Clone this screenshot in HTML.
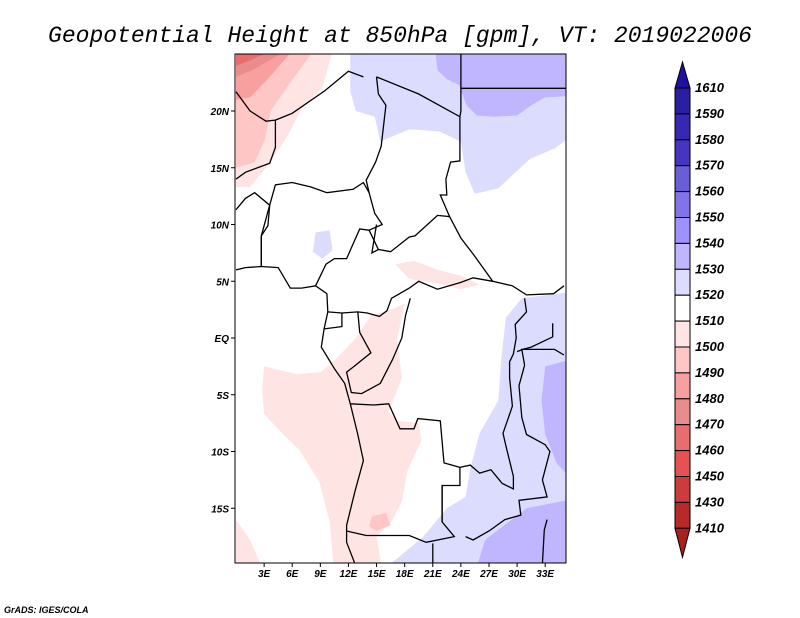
<!DOCTYPE html>
<html><head><meta charset="utf-8"><style>
body{margin:0;background:#fff;}
svg{display:block;}
text{font-family:"Liberation Sans",sans-serif;}
</style></head><body>
<svg id="c" width="800" height="618" viewBox="0 0 800 618">
<rect width="800" height="618" fill="#fff"/>
<text x="400" y="42" text-anchor="middle" font-style="italic" font-size="23" fill="#000" style="font-family:'Liberation Mono',monospace">Geopotential Height at 850hPa [gpm], VT: 2019022006</text>
<g id="map"></g>
<g id="axes"></g>
<g id="cbar"></g>
<text x="4" y="613" font-size="9" font-weight="bold" font-style="italic">GrADS: IGES/COLA</text>
</svg>
<script>
const NS="http://www.w3.org/2000/svg";
// colorbar data
const levelLabels=["1610","1590","1580","1570","1560","1550","1540","1530","1520","1510","1500","1490","1480","1470","1460","1450","1430","1410"];
const boxColors=["#2a1fa0","#3628b0","#4535c0","#6a5ed6","#8074e8","#9e92ff","#bfb6ff","#dcdcff","#ffffff","#ffe4e4","#ffc6c6","#f8a0a0","#e88c8c","#e86e6e","#e65252","#cc3c3c","#b82a2a"];
const topColor="#2010a0", bottomColor="#a82020";
// axis ticks
const lonTicks=[3,6,9,12,15,18,21,24,27,30,33];
const latTicks=[20,15,10,5,0,-5,-10,-15];
// shaded regions: [color, [[lon,lat],...]]
const regions=[
 ["#ffe4e4",[[0,25],[10.2,25],[9.2,22],[7,20.2],[5.5,17.8],[3.5,15.3],[1.5,13.3],[0,13.3]]],
 ["#ffc6c6",[[0,25],[8,25],[5.8,22.5],[3.7,20],[3.1,17.5],[2,15.5],[0,15]]],
 ["#f8a0a0",[[0,25],[5.7,25],[3.6,23],[1.5,21.2],[0,21]]],
 ["#e88c8c",[[0,25],[4.7,25],[2,23.7],[0,23]]],
 ["#e86e6e",[[0,25],[3,25],[1,24.3],[0,24]]],
 ["#dcdcff",[[12.2,25],[35.3,25],[35.3,17.5],[34,16.7],[31.4,15.8],[28,13.2],[25.5,12.7],[24.5,14.6],[24,17.3],[21.7,18.2],[18.5,18.4],[15.4,17.3],[14.8,19.5],[12.8,20],[12.2,21.7]]],
 ["#bfb6ff",[[21.3,25],[35.3,25],[35.3,21.3],[33,21.2],[31.5,20.5],[30,19.6],[27.5,19.5],[25.7,19.6],[24.6,20.5],[23.8,22.3],[22.5,22.8],[21.5,23.6]]],
 ["#dcdcff",[[8.5,9.3],[10,9.5],[10.3,7.7],[9.2,7],[8.2,7.6]]],
 ["#ffe4e4",[[3,-2.5],[6.5,-3.2],[9,-3],[10.5,-2],[12.8,0],[14.4,2],[16.5,2.5],[18,3],[17.2,0],[17.7,-3.5],[16.3,-6.5],[17.2,-7.3],[19.5,-7.5],[19.8,-9],[18.3,-11.7],[17.7,-14.4],[16.6,-16.2],[15,-17.5],[15.5,-19.9],[10.4,-19.9],[10,-16.2],[8.9,-12.7],[6.8,-9.9],[4.7,-8.2],[3,-6.7],[2.8,-4.5]]],
 ["#ffe4e4",[[0,-16],[1.5,-17.8],[2.6,-19.9],[0,-19.9]]],
 ["#ffc6c6",[[14.5,-15.7],[16,-15.4],[16.5,-16.5],[15,-17],[14.2,-16.6]]],
 ["#ffe4e4",[[17,6.5],[19,6.8],[21.5,6],[24,5.5],[26,4.7],[24,4.3],[21.5,4.8],[18.5,5.2]]],
 ["#dcdcff",[[35.3,4],[30.5,3.5],[28.8,1.8],[28.3,-1.9],[28,-5.5],[26,-8.4],[25,-11.5],[24.5,-14],[22.5,-15],[20,-17.5],[16.5,-19.9],[35.3,-19.9]]],
 ["#bfb6ff",[[35.3,-2],[33,-2.5],[32.6,-5.5],[33,-8.5],[34.2,-11],[35.3,-12]]],
 ["#bfb6ff",[[35.3,-14.3],[31,-15],[28.3,-16.7],[26.6,-17.8],[25.8,-19.9],[35.3,-19.9]]]
];
// coastline / borders polylines
const lines=[
 [[0,14],[1,14.6],[3.6,15.4],[4.2,16.8],[4.2,19.2],[6,19.8],[9.5,21.8],[12,23.5],[13.6,23]],
 [[0,21.7],[1.5,20],[3.2,19.1],[4.2,19.2]],
 [[0,11.3],[1,12.3],[2,12.8],[3.6,11.7],[3.4,9.9],[2.7,9],[2.7,6.3]],
 [[0,6],[1,6.2],[2.7,6.3],[4.5,6.2],[5.8,4.4],[7,4.4],[8.5,4.6],[9.7,3.9],[9.8,2.3],[9.4,0.8],[9.1,-0.8],[10.5,-2.7],[11.6,-4],[12.2,-5.8],[13,-8.5],[13.6,-10.8],[12.7,-13.5],[11.8,-16.5],[11.8,-18],[12.7,-19.9]],
 [[2.7,6.3],[2.7,9],[3.6,11.7],[4.2,13.5],[6,13.7],[8,13.3],[9.7,12.8],[12.5,13.1],[13.6,13.7],[14.2,12.8],[14.8,11],[15.6,10],[14.2,9.5],[15.2,7.8],[16.5,7.6],[18.5,8.9],[19.1,9],[21.5,10.8],[22.8,10.7],[24,8.8],[25.3,7.4],[27.4,5]],
 [[14.2,12.8],[13.9,13.9],[14.9,15.5],[15.5,16.9],[16,20.5],[15.2,21.5],[15,23]],
 [[15,23],[19.5,21.5],[23.9,19.5],[23.9,15.6],[22.9,15.5],[22.4,14],[22.5,12.6],[21.8,12.6],[22.8,10.7]],
 [[24,25],[24,20],[23.9,19.5]],
 [[24,22],[35.3,22]],
 [[8.5,4.6],[9.6,6.5],[10.5,7],[11.8,7],[13.2,9.6],[14.2,9.5]],
 [[15,10],[14.5,7.5],[15.2,7.8]],
 [[9.8,2.3],[11.3,2.2],[13,2.3],[14,2.2],[15.3,1.9],[16.1,2.4],[16.6,3.5],[18.5,4.4],[19.5,5],[21.5,4.3],[24,4.9],[25.3,5.3],[27.4,5],[29.5,4.6],[31,3.8],[33.9,3.9],[35,4.6]],
 [[11.3,2.2],[11.3,1],[9.4,0.8]],
 [[13,2.3],[13.2,0.5],[14.4,-1.3],[12.6,-2.5],[11.8,-3],[12.3,-4.8],[13.4,-4.9],[15.4,-4],[16.7,-1.9],[17.7,0],[18.1,2],[18.6,3.5]],
 [[12.2,-5.8],[14.7,-5.9],[16.3,-5.8],[17.5,-8],[19,-8],[19.4,-7.1],[21.8,-7.3],[22.2,-11],[23.9,-11.4],[23.9,-13],[22,-13],[22,-16.2],[23.3,-17.5],[20.3,-18],[18.5,-17.4],[13.9,-17.4],[11.8,-17]],
 [[21,-18.1],[21,-19.9]],
 [[22,-13],[22,-16.2]],
 [[23.9,-11.4],[25,-11.2],[26,-11.9],[27.2,-11.6],[28.4,-12.8],[29.6,-13.3],[29.6,-12.2],[28.8,-9.5],[28.5,-8.4],[29.5,-6],[29.2,-3.5],[29.2,-2.1],[29.6,-1.4],[29.9,0],[29.8,1.2],[31,2.3],[30.8,3.5]],
 [[24.5,-17.5],[25.3,-17.8],[27,-17],[28.7,-16],[30.4,-15.6],[30.2,-14.3],[33.2,-14],[32.7,-12.5],[33.5,-10],[33,-9.4],[31,-8.5],[30.5,-7],[30.2,-4.2],[30.8,-2.4],[30.5,-1],[32,-1],[34,-1]],
 [[34,-1],[35,-1.5]],[[30,-1.2],[30.6,-1],[31.5,-0.8],[33.8,0.1],[33.8,1.3]],
 [[32.7,-19.9],[32.9,-16.9],[33.2,-16]]
];
const X0=236, PXLON=9.37, Y0=338, PXLAT=11.35;
const px=lon=>X0+lon*PXLON, py=lat=>Y0-lat*PXLAT;
const map=document.getElementById('map'), axes=document.getElementById('axes'), cb=document.getElementById('cbar');
function mk(tag,attrs,parent){const e=document.createElementNS(NS,tag);for(const k in attrs)e.setAttribute(k,attrs[k]);parent.appendChild(e);return e;}
const defs=mk('defs',{},map);
const cp=mk('clipPath',{id:'clipmap'},defs);
mk('rect',{x:235,y:54,width:331,height:509},cp);
const g=mk('g',{'clip-path':'url(#clipmap)'},map);
regions.forEach((r,i)=>{
 const p=mk('polygon',{points:r[1].map(q=>px(q[0]).toFixed(1)+','+py(q[1]).toFixed(1)).join(' '),fill:r[0]},g);
 
 
});
lines.forEach((l,i)=>{
 const p=mk('polyline',{points:l.map(q=>px(q[0]).toFixed(1)+','+py(q[1]).toFixed(1)).join(' '),fill:'none',stroke:'#000','stroke-width':1.3},g);
 
 
});
const fr=mk('rect',{x:235,y:54,width:331,height:509,fill:'none',stroke:'#000','stroke-width':1},map);


lonTicks.forEach(v=>{
 const x=px(v);
 mk('line',{x1:x,x2:x,y1:563,y2:567,stroke:'#000'},axes);
 const t=mk('text',{x:x,y:577,'text-anchor':'middle','font-size':10,'font-weight':'bold','font-style':'italic'},axes);
 t.textContent=v+'E';
 
 
});
latTicks.forEach(v=>{
 const y=py(v);
 mk('line',{x1:231,x2:235,y1:y,y2:y,stroke:'#000'},axes);
 const t=mk('text',{x:229,y:y+4,'text-anchor':'end','font-size':10,'font-weight':'bold','font-style':'italic'},axes);
 t.textContent=v===0?'EQ':(Math.abs(v)+(v>0?'N':'S'));
 
 
});
const CBX=675, CBW=15, CBTOP=88, BOXH=25.9;
const tt=mk('polygon',{points:`${CBX},${CBTOP} ${CBX+CBW},${CBTOP} ${CBX+CBW/2},${CBTOP-26}`,fill:topColor,stroke:'#000'},cb);


boxColors.forEach((c,i)=>{
 const r=mk('rect',{x:CBX,y:CBTOP+i*BOXH,width:CBW,height:BOXH,fill:c,stroke:'#000','stroke-width':1},cb);
 
 
});
const bot=CBTOP+boxColors.length*BOXH;
const bt=mk('polygon',{points:`${CBX},${bot} ${CBX+CBW},${bot} ${CBX+CBW/2},${bot+29}`,fill:bottomColor,stroke:'#000'},cb);


levelLabels.forEach((l,i)=>{
 const t=mk('text',{x:695,y:CBTOP+i*BOXH+4,'font-size':13,'font-weight':'bold','font-style':'italic'},cb);
 t.textContent=l;
 
 
});
</script>
</body></html>
